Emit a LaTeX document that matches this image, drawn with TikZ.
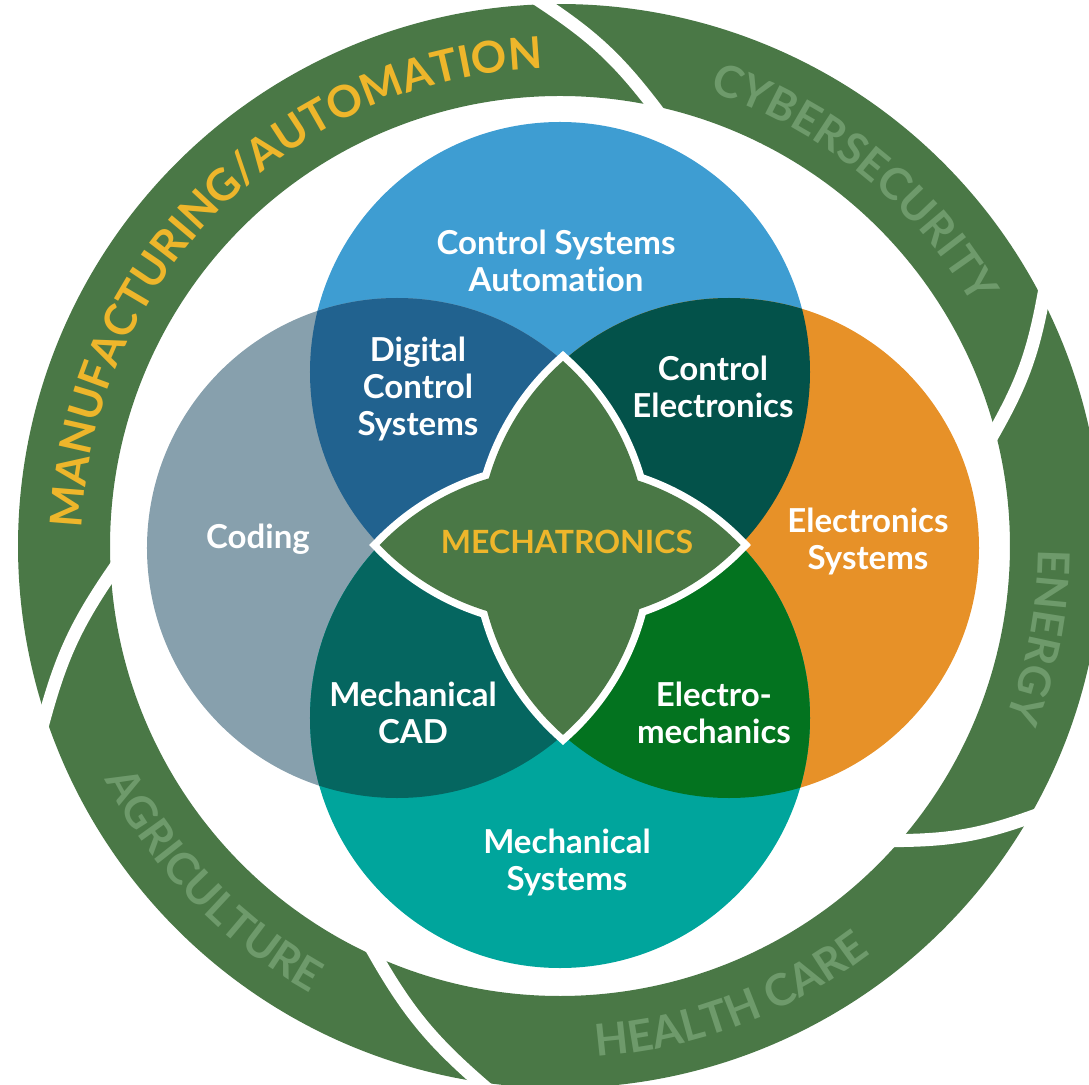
\documentclass[tikz,border=0pt]{standalone}
\usepackage{fontspec}
\setmainfont{Lato}[Ligatures=NoCommon]
\usetikzlibrary{decorations.text}

\definecolor{ringgreen}{HTML}{4A7846}
\definecolor{ringtext}{HTML}{6E9A6B}
\definecolor{ringgold}{HTML}{EEB62B}
\definecolor{cblue}{HTML}{3E9DD2}
\definecolor{cgrey}{HTML}{87A0AD}
\definecolor{corange}{HTML}{E79128}
\definecolor{cteal}{HTML}{00A59C}
\definecolor{xbluegrey}{HTML}{21628F}
\definecolor{xblueorange}{HTML}{03524A}
\definecolor{xgreyteal}{HTML}{056660}
\definecolor{xorangeteal}{HTML}{03731F}

\newcommand{\ringout}{542}
\newcommand{\ringin}{450}
\newcommand{\crad}{250}
\newcommand{\lblfont}{\bfseries\fontsize{33}{37}\selectfont}
\newcommand{\ringfont}{\bfseries\fontsize{44}{44}\selectfont}

% one green band of the ring: outer start, inner start, outer end, inner end
\NewDocumentCommand{\ringseg}{mmmm}{%
\fill[ringgreen] (#1:\ringout) arc[start angle=#1, end angle=#3, radius=\ringout]
  to[bend left=10] (#4:\ringin) arc[start angle=#4, end angle=#2, radius=\ringin]
  to[bend right=10] (#1:\ringout) -- cycle;%
}

\tikzset{
  gapline/.style={white, line width=13pt, shorten <=-12pt, shorten >=-12pt},
  lbl/.style={text=white, font=\lblfont, align=center},
  ringlabel/.style 2 args={decorate, decoration={text along path, text align=center,
      text={|\ringfont|#1}, text color=#2}},
  vlens/.style={insert path={(3,185) arc[start angle=131.6, end angle=228.4, radius=\crad]
      arc[start angle=-48.4, end angle=48.4, radius=\crad] -- cycle}},
  hlens/.style={insert path={(180.5,1) arc[start angle=43.8, end angle=136.2, radius=\crad]
      arc[start angle=223.8, end angle=316.2, radius=\crad] -- cycle}},
}

\begin{document}
\begin{tikzpicture}[x=1pt, y=1pt]
  \useasboundingbox (-560,-538) rectangle (529,546);
  \clip (-560,-538) rectangle (529,546);

  % Ring
  \ringseg{198.2}{183.5}{91.6}{78.0}
  \ringseg{91.6}{78.0}{27.0}{14.8}
  \ringseg{27.0}{14.8}{-30.1}{-40.9}
  \ringseg{-30.1}{-40.9}{-98.6}{-114.1}
  \ringseg{-98.6}{-114.1}{-161.8}{-176.5}

  % gaps between the bands
  \draw[gapline] (78.0:\ringin) to[bend right=10] (91.6:\ringout);
  \draw[gapline] (14.8:\ringin) to[bend right=10] (27.0:\ringout);
  \draw[gapline] (-40.9:\ringin) to[bend right=10] (-30.1:\ringout);
  \draw[gapline] (-114.1:\ringin) to[bend right=10] (-98.6:\ringout);
  \draw[gapline] (183.5:\ringin) to[bend right=10] (198.2:\ringout);

  % Ring labels
  \path[ringlabel={MANUFACTURING/AUTOMATION}{ringgold}] (180:478) arc[start angle=180, end angle=90, radius=478];
  \path[ringlabel={CYBERSECURITY}{ringtext}] (81:478) arc[start angle=81, end angle=21, radius=478];
  \path[ringlabel={ENERGY}{ringtext}] (19.2:478) arc[start angle=19.2, end angle=-40.8, radius=478];
  \path[ringlabel={HEALTH CARE}{ringtext}] (-99.3:512) arc[start angle=-99.3, end angle=-39.3, radius=512];
  \path[ringlabel={AGRICULTURE}{ringtext}] (194:512) arc[start angle=194, end angle=254, radius=512];

  % Circles
  \coordinate (cb) at (0,174);
  \coordinate (cg) at (-163,-2);
  \coordinate (co) at (169,-2);
  \coordinate (ct) at (0,-172);
  \fill[cblue] (cb) circle (\crad);
  \fill[cgrey] (cg) circle (\crad);
  \fill[corange] (co) circle (\crad);
  \fill[cteal] (ct) circle (\crad);

  % Overlaps
  \begin{scope}
    \clip (cb) circle (\crad);
    \fill[xbluegrey] (cg) circle (\crad);
    \fill[xblueorange] (co) circle (\crad);
  \end{scope}
  \begin{scope}
    \clip (ct) circle (\crad);
    \fill[xgreyteal] (cg) circle (\crad);
    \fill[xorangeteal] (co) circle (\crad);
  \end{scope}

  % Star
  \draw[white, line width=15pt, vlens];
  \draw[white, line width=15pt, hlens];
  \fill[ringgreen, vlens];
  \fill[ringgreen, hlens];

  % Labels
  \node[lbl] (csa) at (-4,285) {Control Systems\\Automation};
  \node[lbl] (dcs) at (-142,157) {Digital\\Control\\Systems};
  \node[lbl] (cel) at (153,159) {Control\\Electronics};
  \node[lbl] (cod) at (-302,7) {Coding};
  \node[lbl] (els) at (308,4) {Electronics\\Systems};
  \node[lbl] (mcad) at (-147,-167) {Mechanical\\CAD};
  \node[lbl] (emech) at (154,-167) {Electro-\\mechanics};
  \node[lbl] (msys) at (7,-316) {Mechanical\\Systems};
  \node[text=ringgold, font=\bfseries\fontsize{32}{32}\selectfont] (mech) at (7,4) {MECHATRONICS};
\end{tikzpicture}
\end{document}
